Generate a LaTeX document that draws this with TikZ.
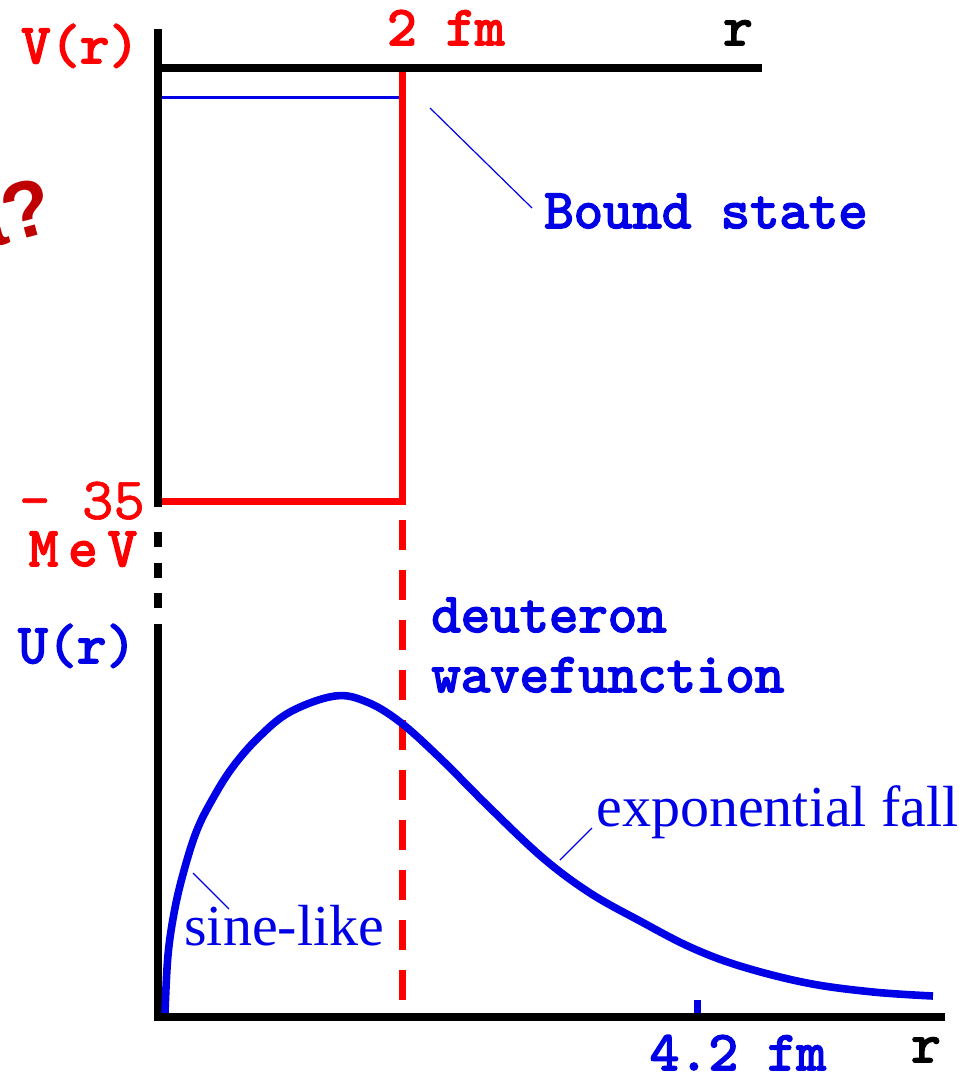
\documentclass[tikz,border=0pt]{standalone}
\usepackage{fontspec}
\newfontfamily\notefont{Liberation Serif}
\newfontfamily\qfont{Liberation Sans}
\newfontfamily\boldmono[FakeBold=3]{lmmono10-regular.otf}
\newfontfamily\plainmono[FakeBold=1]{lmmono10-regular.otf}
\usetikzlibrary{calc}
\definecolor{potred}{RGB}{255,0,0}
\definecolor{wfblue}{RGB}{0,0,230}
\definecolor{qred}{RGB}{192,0,0}
\tikzset{
  axis/.style={line width=4pt, black},
  pot/.style={line width=3.5pt, potred},
  big/.style={font=\fontsize{28}{30}\selectfont\boldmono, inner sep=0pt, anchor=base},
  note/.style={font=\fontsize{29}{30}\selectfont\notefont, wfblue, inner sep=0pt, anchor=base west},
  leader/.style={wfblue, line width=0.6pt},
}

\begin{document}
\begin{tikzpicture}[x=0.5pt, y=-0.5pt]
  \useasboundingbox (0,0) rectangle (974,1072);
  % axes
  \draw[axis] (158,29) -- (158,507);
  \draw[axis, dash pattern=on 7.5pt off 7.75pt] (158,532) -- (158,608);
  \draw[axis] (158,624) -- (158,1021);
  \draw[axis] (154,1017) -- (945,1017);
  % square well
  \draw[pot] (162,501) -- (402,501) -- (402,66);
  \draw[pot, dash pattern=on 15pt off 10pt] (402,520) -- (402,1000);
  \draw[axis] (154,68) -- (762,68);
  \draw[wfblue, line width=1.5pt] (162,97) -- (399,97);
  % wavefunction
  \draw[wfblue, line width=3.8pt, line join=round] plot[smooth, tension=0.6] coordinates {
    (165,1013) (168,955) (175,908) (185,867) (197,830) (212,800)
    (232,768) (258,738) (290,712) (335,696) (367,702) (400,722)
    (440,758) (490,808) (543,858) (590,893) (640,921) (690,947) (740,966)
    (807,983) (873,992) (933,996)};
  \draw[wfblue, line width=3.5pt] (697,1000) -- (697,1013);
  % labels
  \node[big, potred] (vlabel) at (80,63) {V(r)};
  \node[big, potred] (fmtwo) at (446,45) {2 fm};
  \node[big] (rtop) at (738,45) {r};
  \node[big, wfblue] (bound) at (706,228) {Bound state};
  \node[big, potred, font=\fontsize{30}{31}\selectfont\plainmono] (depth) at (82,519) {- 35};
  \node[big, potred] (mev) at (83,566) {M\hspace{5pt}e\hspace{5pt}V};
  \node[big, wfblue] (ulabel) at (77,663) {U(r)};
  \node[big, wfblue, anchor=base west] (deut) at (431,632) {deuteron};
  \node[big, wfblue, anchor=base west] (wave) at (431,692) {wavefunction};
  \node[note] (expfall) at (596,826) {exponential fall};
  \node[note] (sine) at (184,945) {sine-like};
  \node[big, wfblue] (fmfour) at (738,1070) {4.2 fm};
  \node[big] (rbot) at (926,1062) {r};
  \node[font=\fontsize{40}{42}\selectfont\qfont\bfseries, qred, inner sep=0pt,
        anchor=base east, rotate=15] (qmark) at (58,230) {a?};
  % leaders
  \coordinate (boundtip) at (430,108);
  \coordinate (boundend) at (532,208);
  \coordinate (sinetip) at (193,873);
  \coordinate (sineend) at (229,909);
  \coordinate (exptip) at (560,860);
  \coordinate (expend) at (592,828);
  \draw[leader] (boundtip) -- (boundend);
  \draw[leader] (sinetip) -- (sineend);
  \draw[leader] (exptip) -- (expend);
\end{tikzpicture}
\end{document}
